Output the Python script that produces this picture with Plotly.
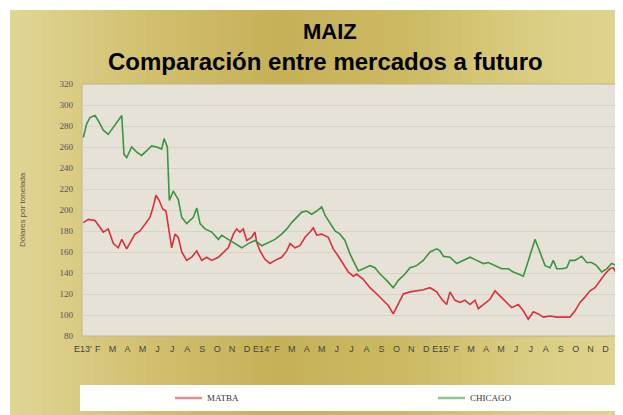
import plotly.graph_objects as go
import numpy as np

# ---------------- data ----------------
# x = position in months counted from January 2013 (0 = start of E13')
chicago_mes = [0.09, 0.31, 0.53, 0.87, 1.09, 1.42, 1.75, 2.09, 2.42, 2.65, 2.80, 2.98, 3.31, 3.65,
               3.98, 4.31, 4.65, 4.98, 5.31, 5.47, 5.69, 5.82, 6.09, 6.42, 6.65, 6.98, 7.42, 7.65,
               7.87, 8.20, 8.65, 9.09, 9.31, 9.75, 10.20, 10.65, 11.09, 11.53, 11.98, 12.42, 12.87,
               13.31, 13.65, 13.98, 14.31, 14.65, 14.98, 15.31, 15.65, 15.98, 16.20, 16.53, 16.87,
               17.20, 17.53, 17.87, 18.09, 18.42, 18.75, 19.20, 19.53, 19.87, 20.31, 20.75, 21.09,
               21.53, 21.87, 22.31, 22.75, 23.20, 23.65, 23.87, 24.09, 24.53, 24.98, 25.42, 25.87,
               26.31, 26.75, 27.09, 27.53, 27.98, 28.42, 28.75, 29.09, 29.42, 29.65, 29.87, 30.20,
               30.42, 30.65, 30.87, 31.20, 31.42, 31.65, 31.98, 32.31, 32.53, 32.87, 33.31, 33.65,
               33.98, 34.31, 34.65, 34.98, 35.31, 35.65, 35.98]
chicago_val = [269, 282, 288, 290, 285, 276, 272, 279, 285, 290, 253, 250, 260, 255,
               252, 256, 261, 260, 258, 268, 260, 209, 218, 210, 193, 187, 193, 202,
               187, 182, 179, 172, 176, 172, 168, 164, 168, 171, 166, 169, 172,
               177, 182, 188, 193, 198, 199, 196, 199, 203, 195, 187, 180,
               177, 171, 158, 152, 142, 144, 147, 145, 139, 133, 126, 133,
               139, 145, 147, 152, 160, 163, 161, 156, 155, 149, 152, 155,
               152, 149, 150, 147, 144, 144, 141, 139, 137, 147, 158, 172,
               164, 155, 147, 145, 152, 144, 144, 145, 152, 152, 156, 150,
               150, 147, 141, 144, 149, 147, 142]

matba_mes = [0.09, 0.42, 0.87, 1.20, 1.42, 1.75, 2.09, 2.42, 2.65, 2.98, 3.31, 3.53, 3.87, 4.20,
             4.53, 4.75, 4.93, 5.15, 5.38, 5.60, 5.82, 5.98, 6.20, 6.42, 6.65, 6.98, 7.31, 7.65,
             7.98, 8.31, 8.65, 9.09, 9.31, 9.75, 10.09, 10.31, 10.53, 10.75, 10.98, 11.31, 11.53,
             11.65, 11.87, 12.20, 12.53, 12.87, 13.31, 13.65, 13.87, 14.20, 14.53, 14.87, 15.20,
             15.42, 15.65, 15.98, 16.42, 16.75, 17.09, 17.42, 17.75, 18.09, 18.31, 18.75, 19.20,
             19.65, 20.09, 20.42, 20.75, 21.09, 21.42, 21.87, 22.31, 22.75, 23.20, 23.65, 23.98,
             24.31, 24.53, 24.87, 25.20, 25.53, 25.87, 26.20, 26.42, 26.75, 27.20, 27.53, 27.87,
             28.20, 28.65, 29.09, 29.42, 29.75, 30.09, 30.42, 30.75, 31.20, 31.65, 32.09, 32.53,
             32.87, 33.20, 33.53, 33.87, 34.20, 34.53, 34.87, 35.20, 35.42, 35.65, 35.87]
matba_val = [188, 191, 190, 183, 179, 182, 168, 164, 172, 163, 171, 177, 180, 187,
             193, 203, 214, 209, 201, 199, 180, 164, 177, 174, 160, 152, 155, 161,
             152, 155, 152, 155, 158, 164, 177, 182, 179, 182, 171, 174, 179,
             169, 161, 153, 149, 152, 155, 161, 168, 164, 166, 174, 179,
             183, 176, 177, 174, 163, 156, 149, 141, 137, 139, 134, 126,
             120, 114, 109, 101, 110, 120, 122, 123, 124, 126, 122, 115,
             110, 122, 114, 112, 114, 110, 114, 106, 110, 115, 123, 118,
             114, 107, 110, 104, 96, 103, 101, 98, 99, 98, 98, 98,
             104, 112, 117, 123, 126, 133, 139, 144, 145, 139, 137]

meses_etiquetas = ["E13'", "F", "M", "A", "M", "J", "J", "A", "S", "O", "N", "D",
                   "E14'", "F", "M", "A", "M", "J", "J", "A", "S", "O", "N", "D",
                   "E15'", "F", "M", "A", "M", "J", "J", "A", "S", "O", "N", "D"]
y_ticks = list(range(80, 321, 20))
series_names = ["MATBA", "CHICAGO"]
series_colors = ["#d8303c", "#3d9440"]

# ---------------- figure ----------------
# the page body adds an 8px offset; lay out in screen pixels and compensate
OFF = 8
W, H = 623, 415
PL, PR, PT, PB = 82, 622, 84, 336          # plot area in screen pixels
L, T = PL - OFF, PT - OFF
R, B = W - (PR - OFF), H - (PB - OFF)
pw, ph = W - L - R, H - T - B

def px(x):
    return (x - OFF - L) / pw

def py(y):
    return (H - B - (y - OFF)) / ph

fig = go.Figure()
fig.add_trace(go.Scatter(x=matba_mes, y=matba_val, mode="lines", name=series_names[0],
                         line=dict(color=series_colors[0], width=1.6)))
fig.add_trace(go.Scatter(x=chicago_mes, y=chicago_val, mode="lines", name=series_names[1],
                         line=dict(color=series_colors[1], width=1.6)))

shapes = []
# golden gradient background panel (vertical strips)
stops_x = [10, 150, 280, 400, 520, 623]
stops_c = [(226, 214, 150), (210, 192, 112), (198, 177, 88), (204, 186, 98), (218, 204, 128), (224, 212, 145)]
n = 60
edges = np.linspace(10, 640, n + 1)
for i in range(n):
    xm = (edges[i] + edges[i + 1]) / 2
    c = [int(np.interp(xm, stops_x, [s[k] for s in stops_c])) for k in range(3)]
    shapes.append(dict(type="rect", xref="paper", yref="paper", layer="below",
                       x0=px(edges[i]), x1=px(edges[i + 1] + 0.6), y0=py(H + 20), y1=py(10),
                       line=dict(width=0), fillcolor=f"rgb({c[0]},{c[1]},{c[2]})"))
# plot background
shapes.append(dict(type="rect", xref="paper", yref="paper", layer="below",
                   x0=0, x1=1, y0=0, y1=1, line=dict(width=1, color="#bdb48e"),
                   fillcolor="#e7e2d7"))
# legend white box
shapes.append(dict(type="rect", xref="paper", yref="paper", layer="below",
                   x0=px(80), x1=px(621), y0=py(411), y1=py(385),
                   line=dict(width=0), fillcolor="#ffffff"))
# legend entries drawn by hand (keeps the plot area fixed)
leg_x = [175, 438]
for k in range(2):
    shapes.append(dict(type="line", xref="paper", yref="paper", layer="above",
                       x0=px(leg_x[k]), x1=px(leg_x[k] + 27), y0=py(398), y1=py(398),
                       line=dict(color=series_colors[k], width=2.5), opacity=0.55))
    fig.add_annotation(text=series_names[k], xref="paper", yref="paper",
                       x=px(leg_x[k] + 30), y=py(398), showarrow=False,
                       xanchor="left", yanchor="middle",
                       font=dict(family="Liberation Serif, Times New Roman", size=9, color="#333"))
fig.update_layout(shapes=shapes)

fig.add_annotation(text="<b>MAIZ</b>", xref="paper", yref="paper", x=px(330), y=py(31),
                   showarrow=False, font=dict(family="Liberation Sans, Arial", size=22, color="#000"),
                   xanchor="center", yanchor="middle")
fig.add_annotation(text="<b>Comparación entre mercados a futuro</b>", xref="paper", yref="paper",
                   x=px(325), y=py(61), showarrow=False,
                   font=dict(family="Liberation Sans, Arial", size=24, color="#000"),
                   xanchor="center", yanchor="middle")
fig.add_annotation(text="Dólares por tonelada", xref="paper", yref="paper", x=px(22), y=py(210),
                   textangle=-90, showarrow=False,
                   font=dict(family="Liberation Sans, Arial", size=8, color="#555"),
                   xanchor="center", yanchor="middle")

tick_pos = [0.05 + i * (34.9 - 0.05) / 35 for i in range(36)]

fig.update_layout(
    width=W, height=H,
    margin=dict(l=L, r=R, t=T, b=B, autoexpand=False),
    paper_bgcolor="#ffffff",
    plot_bgcolor="rgba(0,0,0,0)",
    showlegend=False,
    xaxis=dict(range=[0, 36], tickvals=tick_pos, ticktext=meses_etiquetas,
               showgrid=False, zeroline=False, showline=False, ticks="", automargin=False,
               tickfont=dict(family="Liberation Sans, Arial", size=9, color="#444"), ticklabelstandoff=6),
    yaxis=dict(range=[80, 320], tickvals=y_ticks, showgrid=True, gridcolor="#d9d3c6", gridwidth=1,
               zeroline=False, showline=False, ticks="", automargin=False,
               tickfont=dict(family="Liberation Serif, Times New Roman", size=9, color="#555"),
               ticklabelstandoff=8),
)

fig.write_html("out.html")
